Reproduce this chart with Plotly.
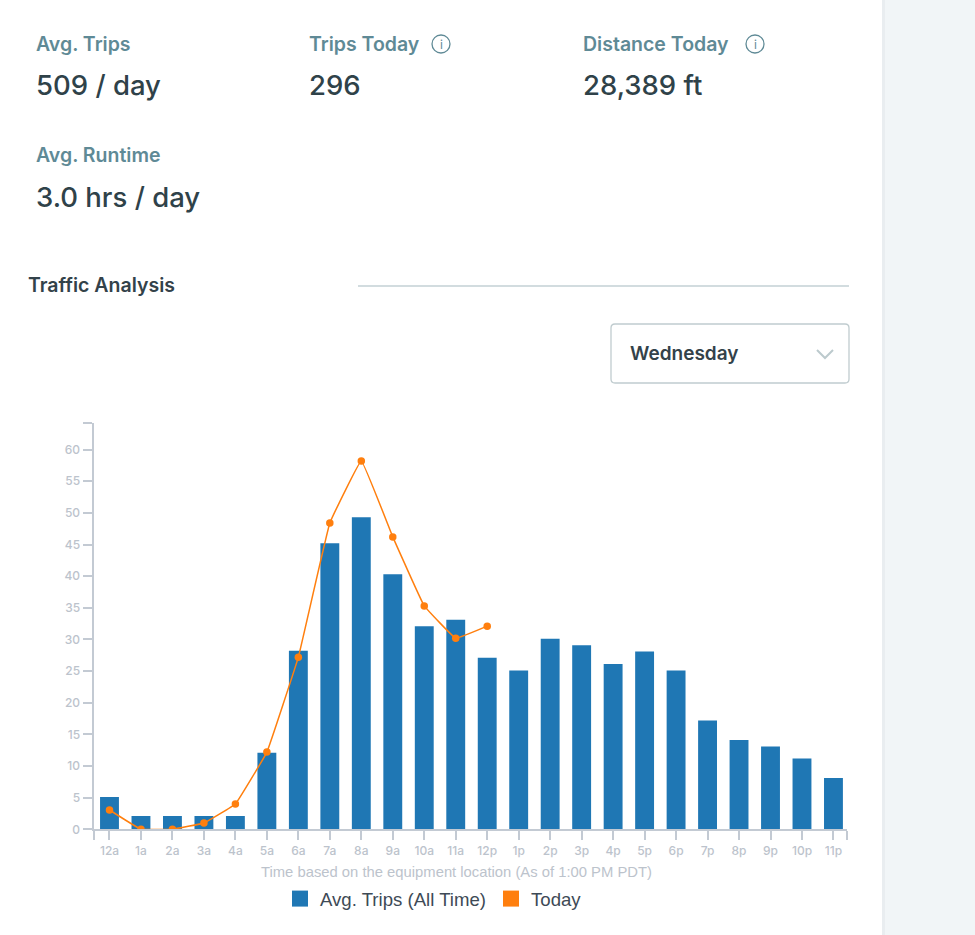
import plotly.graph_objects as go

W = 975
H = 935

hours = ["12a", "1a", "2a", "3a", "4a", "5a", "6a", "7a", "8a", "9a", "10a", "11a",
         "12p", "1p", "2p", "3p", "4p", "5p", "6p", "7p", "8p", "9p", "10p", "11p"]
avg_trips = [5.1, 2.1, 2.1, 2.1, 2.1, 12.1, 28.2, 45.2, 49.3, 40.3, 32.1, 33.1,
             27.1, 25.1, 30.1, 29.1, 26.1, 28.1, 25.1, 17.2, 14.1, 13.1, 11.2, 8.1]
today = [3.05, 0, 0, 1, 4, 12.2, 27.2, 48.4, 58.2, 46.2, 35.3, 30.2, 32.1]
y_ticks = [0, 5, 10, 15, 20, 25, 30, 35, 40, 45, 50, 55, 60]
y_top = 64.2
x_range = [-0.508, 23.43]

# label, value, x, label y, value y
stats = [
    ("Avg. Trips", "509 / day", 37, 44, 85),
    ("Trips Today", "296", 310, 44, 85),
    ("Distance Today", "28,389 ft", 584, 44, 85),
    ("Avg. Runtime", "3.0 hrs / day", 37, 155, 197),
]
# centres of the two info icons
info_icons = [(441, 44), (755, 44)]

BLUE = "#1f77b4"
ORANGE = "#ff7f0e"
AXIS = "#c3cad3"
TICK_TEXT = "#bcc3cc"
LABEL = "#5f8a96"
VALUE = "#2f4249"
FONT = "Inter"


def px(x):
    return x / W


def py(y):
    return 1 - y / H


def text(x, y, s, size, color, weight=500, anchor="left", family=FONT):
    return dict(x=px(x), y=py(y), xref="paper", yref="paper", text=s, showarrow=False,
                xanchor=anchor, yanchor="middle", borderpad=0, borderwidth=0,
                xshift=-1 if anchor == "left" else 0,
                font=dict(family=family, size=size, color=color, weight=weight))


def rect(x0, y0, x1, y1, fill, line=None):
    return dict(type="rect", xref="paper", yref="paper", x0=px(x0), x1=px(x1), y0=py(y0), y1=py(y1),
                fillcolor=fill, line=dict(width=0 if line is None else 1, color=line), layer="below")


def path(points, color, width=1.5):
    d = "M" + " L".join(f"{px(a)},{py(b)}" for a, b in points)
    return dict(type="path", xref="paper", yref="paper", path=d, line=dict(color=color, width=width))


fig = go.Figure()

fig.add_trace(go.Bar(x=list(range(24)), y=avg_trips, width=0.6, marker_color=BLUE,
                     marker_line_width=0, showlegend=False))
fig.add_trace(go.Scatter(x=list(range(len(today))), y=today, mode="lines+markers",
                         line=dict(color=ORANGE, width=1.5, shape="spline", smoothing=0.2),
                         marker=dict(color=ORANGE, size=7.5), showlegend=False))

# legend shows both series as squares
fig.add_trace(go.Scatter(x=[None], y=[None], mode="markers", name="Avg. Trips (All Time)",
                         marker=dict(color=BLUE, symbol="square", size=16)))
fig.add_trace(go.Scatter(x=[None], y=[None], mode="markers", name="Today",
                         marker=dict(color=ORANGE, symbol="square", size=16)))

shapes = [
    rect(882, 0, 885, H, "#e9edf0"),
    rect(885, 0, W, H, "#f1f5f7"),
    path([(358, 286), (849, 286)], "#c3d1d5", 1.5),
    path([(817, 350), (825, 358), (833, 350)], "#bccacd", 2),
    dict(type="path", xref="paper", yref="paper", line=dict(color="#c0cccf", width=1.3),
         path=(f"M{px(615)},{py(324)} L{px(845)},{py(324)} Q{px(849)},{py(324)} {px(849)},{py(328)} "
               f"L{px(849)},{py(379)} Q{px(849)},{py(383)} {px(845)},{py(383)} "
               f"L{px(615)},{py(383)} Q{px(611)},{py(383)} {px(611)},{py(379)} "
               f"L{px(611)},{py(328)} Q{px(611)},{py(324)} {px(615)},{py(324)} Z")),
]
annotations = []
for label, value, x, y_label, y_value in stats:
    annotations.append(text(x, y_label, label, 19.5, LABEL, 600))
    annotations.append(text(x, y_value, value, 27.5, VALUE, 500))
annotations.append(text(29, 285, "Traffic Analysis", 19.5, "#33424a", 600))
annotations.append(text(631, 353, "Wednesday", 19, "#33424a", 600))
annotations.append(text(456.5, 872, "Time based on the equipment location (As of 1:00 PM PDT)", 14.8,
                        TICK_TEXT, 400, "center", "Liberation Sans"))
for cx, cy in info_icons:
    shapes.append(dict(type="circle", xref="paper", yref="paper",
                       x0=px(cx - 9), x1=px(cx + 9), y0=py(cy - 9), y1=py(cy + 9),
                       line=dict(color=LABEL, width=1.3)))
    annotations.append(text(cx, cy, "i", 12, LABEL, 400, "center"))

fig.update_layout(
    width=W,
    height=H,
    margin=dict(l=0, r=0, t=0, b=0, autoexpand=False),
    paper_bgcolor="white",
    plot_bgcolor="white",
    shapes=shapes,
    annotations=annotations,
    legend=dict(orientation="h", x=px(280), y=py(899), xanchor="left", yanchor="middle",
                font=dict(family="Liberation Sans", size=18.6, color="#3e4a56"),
                itemclick=False),
    xaxis=dict(
        domain=[px(93.5), px(847)],
        range=x_range,
        tickmode="array",
        tickvals=[x_range[0]] + list(range(24)) + [x_range[1]],
        ticktext=[""] + hours + [""],
        ticks="outside",
        ticklen=9,
        tickwidth=1.5,
        tickcolor=AXIS,
        showline=True,
        linecolor=AXIS,
        linewidth=2,
        showgrid=False,
        zeroline=False,
        tickangle=0,
        tickfont=dict(family=FONT, size=12, color=TICK_TEXT, weight=500),
    ),
    yaxis=dict(
        domain=[py(829.3), py(423)],
        range=[0, y_top],
        tickmode="array",
        tickvals=y_ticks + [y_top],
        ticktext=[str(v) for v in y_ticks] + [""],
        ticks="outside",
        ticklen=9,
        tickwidth=1.5,
        tickcolor=AXIS,
        showline=True,
        linecolor=AXIS,
        linewidth=2,
        showgrid=False,
        zeroline=False,
        tickfont=dict(family=FONT, size=12, color=TICK_TEXT, weight=500),
    ),
)

fig.write_html("out.html", config={"displayModeBar": False},
               post_script="document.body.style.margin='0';document.body.style.overflow='hidden';")
